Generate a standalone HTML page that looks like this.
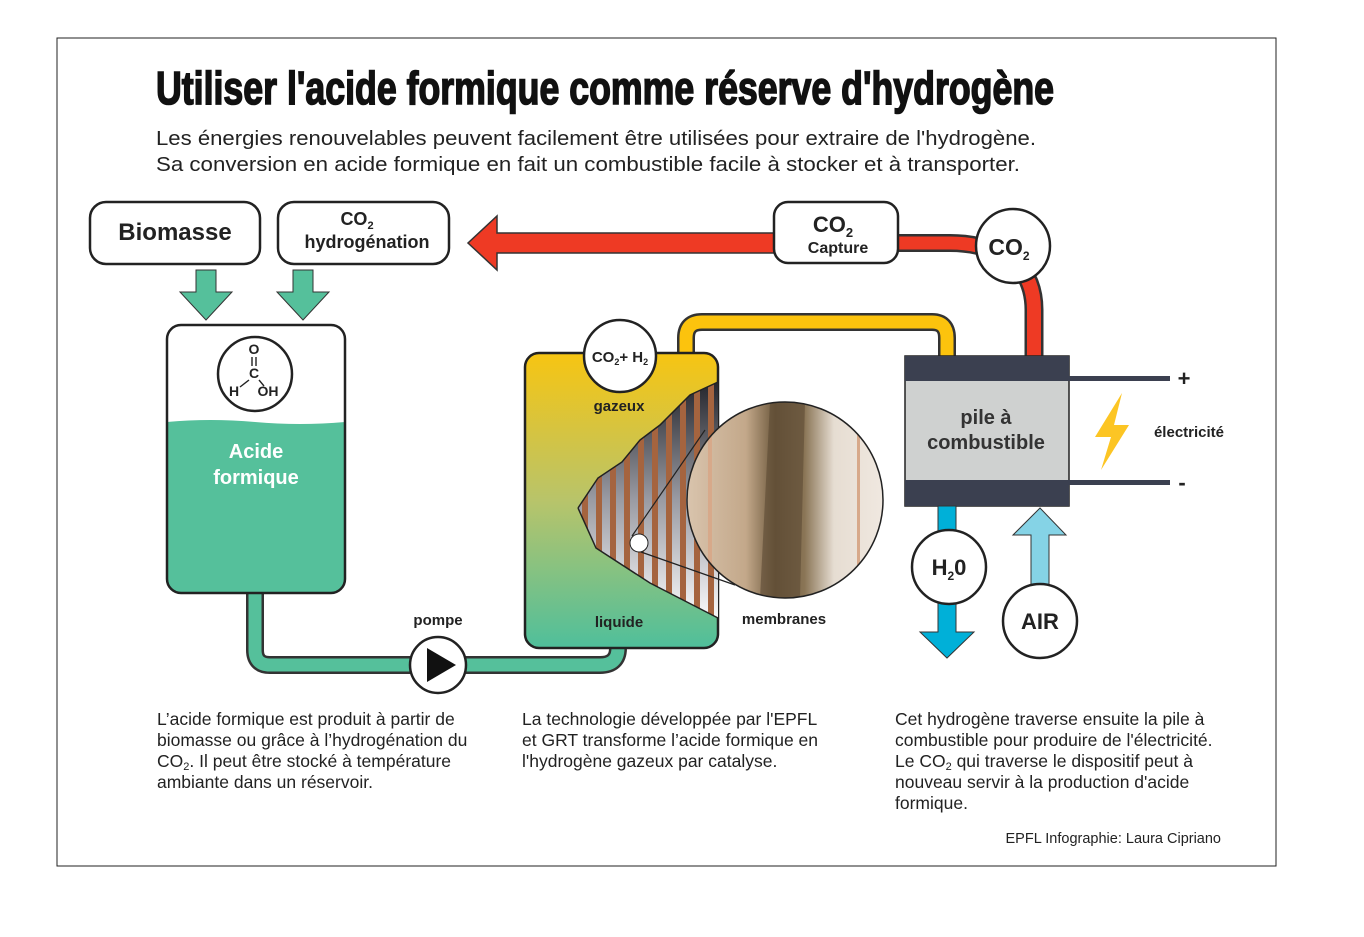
<!DOCTYPE html>
<html><head><meta charset="utf-8"><style>
html,body{margin:0;padding:0;background:#fff;}
svg{display:block;font-family:"Liberation Sans",sans-serif;}
</style></head><body>
<svg width="1364" height="937" viewBox="0 0 1364 937" xmlns="http://www.w3.org/2000/svg">
<defs>
<linearGradient id="tk2" x1="0" y1="0" x2="0" y2="1">
<stop offset="0" stop-color="#f7c512"/><stop offset="0.5" stop-color="#b8c46a"/><stop offset="1" stop-color="#4fbf9b"/></linearGradient>
<linearGradient id="mem" x1="0" y1="0" x2="0" y2="1">
<stop offset="0" stop-color="#1e1f25"/><stop offset="0.5" stop-color="#9a9ba3"/><stop offset="1" stop-color="#ffffff"/></linearGradient>
<linearGradient id="band" x1="0" y1="0" x2="1" y2="0">
<stop offset="0" stop-color="#d9c4ad"/><stop offset="0.3" stop-color="#c3a88a"/><stop offset="0.45" stop-color="#6e5a3e"/><stop offset="0.6" stop-color="#8a7556"/><stop offset="0.75" stop-color="#e6ddd2"/><stop offset="1" stop-color="#f0e8e0"/></linearGradient>
<clipPath id="magc"><circle cx="785" cy="500" r="98"/></clipPath>
<clipPath id="memc"><path d="M578,508 L598,478 L622,462 L640,440 L660,425 L690,395 L718,382 L718,618 L650,583 L596,548 Z"/></clipPath>
</defs>
<rect x="57" y="38" width="1219" height="828" fill="none" stroke="#222" stroke-width="1"/>

<text x="156" y="104" font-size="46" font-weight="bold" fill="#111" stroke="#111" stroke-width="1.6" textLength="898" lengthAdjust="spacingAndGlyphs">Utiliser l'acide formique comme réserve d'hydrogène</text>
<text x="156" y="145" font-size="20" fill="#222" textLength="880" lengthAdjust="spacingAndGlyphs">Les énergies renouvelables peuvent facilement être utilisées pour extraire de l'hydrogène.</text>
<text x="156" y="171" font-size="20" fill="#222" textLength="864" lengthAdjust="spacingAndGlyphs">Sa conversion en acide formique en fait un combustible facile à stocker et à transporter.</text>

<rect x="90" y="202" width="170" height="62" rx="16" fill="#fff" stroke="#222" stroke-width="2.5"/>
<text x="175" y="240" font-size="24" font-weight="bold" text-anchor="middle" fill="#222">Biomasse</text>
<rect x="278" y="202" width="171" height="62" rx="16" fill="#fff" stroke="#222" stroke-width="2.5"/>
<text x="357" y="225" font-size="18" font-weight="bold" text-anchor="middle" fill="#222">CO<tspan font-size="11" dy="4">2</tspan></text>
<text x="367" y="248" font-size="18" font-weight="bold" text-anchor="middle" fill="#222">hydrogénation</text>

<path d="M196,270 H216 V292 H232 L206,320 L180,292 H196 Z" fill="#55c09b" stroke="#333" stroke-width="1"/>
<path d="M293,270 H313 V292 H329 L303,320 L277,292 H293 Z" fill="#55c09b" stroke="#333" stroke-width="1"/>

<path d="M255,590 V650 Q255,665 270,665 H600 Q618,665 618,648" fill="none" stroke="#333" stroke-width="18"/>
<path d="M255,590 V650 Q255,665 270,665 H600 Q618,665 618,648" fill="none" stroke="#55c09b" stroke-width="13"/>

<path d="M167,422 Q210,418 255,422 Q300,426 345,422 V579 Q345,593 331,593 H181 Q167,593 167,579 Z" fill="#55c09b"/>
<rect x="167" y="325" width="178" height="268" rx="14" fill="none" stroke="#222" stroke-width="2.5"/>
<circle cx="255" cy="374" r="37" fill="#fff" stroke="#222" stroke-width="2.5"/>
<text x="254" y="354" font-size="14" font-weight="bold" text-anchor="middle" fill="#222">O</text>
<line x1="252" y1="357" x2="252" y2="366" stroke="#222" stroke-width="1.4"/><line x1="256" y1="357" x2="256" y2="366" stroke="#222" stroke-width="1.4"/>
<text x="254" y="378" font-size="14" font-weight="bold" text-anchor="middle" fill="#222">C</text>
<line x1="249" y1="380" x2="240" y2="387" stroke="#222" stroke-width="1.4"/><line x1="259" y1="380" x2="264" y2="386" stroke="#222" stroke-width="1.4"/>
<text x="234" y="396" font-size="14" font-weight="bold" text-anchor="middle" fill="#222">H</text>
<text x="268" y="396" font-size="14" font-weight="bold" text-anchor="middle" fill="#222">OH</text>
<text x="256" y="458" font-size="20" font-weight="bold" text-anchor="middle" fill="#fff">Acide</text>
<text x="256" y="484" font-size="20" font-weight="bold" text-anchor="middle" fill="#fff">formique</text>

<circle cx="438" cy="665" r="28" fill="#fff" stroke="#222" stroke-width="2.5"/>
<path d="M427,648 L456,665 L427,682 Z" fill="#111"/>
<text x="438" y="625" font-size="15" font-weight="bold" text-anchor="middle" fill="#222">pompe</text>

<path d="M686,360 V338 Q686,322 702,322 H932 Q947,322 947,338 V358" fill="none" stroke="#333" stroke-width="18"/>
<path d="M686,362 V338 Q686,322 702,322 H932 Q947,322 947,338 V358" fill="none" stroke="#fcc30d" stroke-width="13"/>

<rect x="525" y="353" width="193" height="295" rx="14" fill="url(#tk2)" stroke="#222" stroke-width="2.5"/>
<g clip-path="url(#memc)">
<rect x="570" y="375" width="150" height="250" fill="url(#mem)"/>
<g fill="#a5643f">
<rect x="582" y="370" width="6" height="260"/><rect x="596" y="370" width="6" height="260"/><rect x="610" y="370" width="6" height="260"/><rect x="624" y="370" width="6" height="260"/><rect x="638" y="370" width="6" height="260"/><rect x="652" y="370" width="6" height="260"/><rect x="666" y="370" width="6" height="260"/><rect x="680" y="370" width="6" height="260"/><rect x="694" y="370" width="6" height="260"/><rect x="708" y="370" width="6" height="260"/>
</g></g>
<path d="M578,508 L598,478 L622,462 L640,440 L660,425 L690,395 L718,382 M718,618 L650,583 L596,548 L578,508" fill="none" stroke="#222" stroke-width="1.5"/>
<circle cx="639" cy="543" r="9" fill="#fff" stroke="#222" stroke-width="1"/>
<line x1="632" y1="536" x2="705" y2="430" stroke="#222" stroke-width="1.2"/>
<line x1="641" y1="552" x2="735" y2="585" stroke="#222" stroke-width="1.2"/>
<g clip-path="url(#magc)">
<rect x="687" y="402" width="196" height="196" fill="url(#band)"/>
<path d="M770,402 L805,402 L800,598 L760,598 Z" fill="#5c4a34" opacity="0.6"/>
<rect x="708" y="402" width="4" height="196" fill="#d7a98a"/><rect x="857" y="402" width="3" height="196" fill="#d7a98a"/>
</g>
<circle cx="785" cy="500" r="98" fill="none" stroke="#222" stroke-width="1.5"/>
<circle cx="620" cy="356" r="36" fill="#fff" stroke="#222" stroke-width="2.5"/>
<text x="620" y="362" font-size="15" font-weight="bold" text-anchor="middle" fill="#222">CO<tspan font-size="9" dy="3">2</tspan><tspan dy="-3">+ H</tspan><tspan font-size="9" dy="3">2</tspan></text>
<text x="619" y="411" font-size="15" font-weight="bold" text-anchor="middle" fill="#222">gazeux</text>
<text x="619" y="627" font-size="15" font-weight="bold" text-anchor="middle" fill="#222">liquide</text>
<text x="784" y="624" font-size="15" font-weight="bold" text-anchor="middle" fill="#222">membranes</text>

<path d="M1034,358 V310 Q1034,280 1015,262" fill="none" stroke="#333" stroke-width="19"/>
<path d="M1034,358 V310 Q1034,280 1015,262" fill="none" stroke="#ee3a24" stroke-width="14"/>
<path d="M890,243 H950 Q965,243 978,246" fill="none" stroke="#333" stroke-width="18"/>
<path d="M890,243 H950 Q965,243 978,246" fill="none" stroke="#ee3a24" stroke-width="13"/>
<path d="M780,233 H497 V216 L468,243 L497,270 V253 H780 Z" fill="#ee3a24" stroke="#333" stroke-width="1.5"/>
<rect x="774" y="202" width="124" height="61" rx="14" fill="#fff" stroke="#222" stroke-width="2.5"/>
<text x="833" y="232" font-size="22" font-weight="bold" text-anchor="middle" fill="#222">CO<tspan font-size="13" dy="5">2</tspan></text>
<text x="838" y="253" font-size="16" font-weight="bold" text-anchor="middle" fill="#222">Capture</text>
<circle cx="1013" cy="246" r="37" fill="#fff" stroke="#222" stroke-width="2.5"/>
<text x="1009" y="255" font-size="23" font-weight="bold" text-anchor="middle" fill="#222">CO<tspan font-size="12" dy="5">2</tspan></text>

<rect x="905" y="356" width="164" height="150" fill="#cfd1d0" stroke="#222" stroke-width="1.5"/>
<rect x="905" y="356" width="164" height="25" fill="#3b4050"/>
<rect x="905" y="480" width="164" height="26" fill="#3b4050"/>
<text x="986" y="424" font-size="20" font-weight="bold" text-anchor="middle" fill="#333">pile à</text>
<text x="986" y="449" font-size="20" font-weight="bold" text-anchor="middle" fill="#333">combustible</text>
<rect x="1069" y="376" width="101" height="5" fill="#3b4050"/>
<rect x="1069" y="480" width="101" height="5" fill="#3b4050"/>
<text x="1184" y="386" font-size="22" font-weight="bold" text-anchor="middle" fill="#222">+</text>
<text x="1182" y="490" font-size="22" font-weight="bold" text-anchor="middle" fill="#222">-</text>
<path d="M1122,393 L1095,437 L1111,437 L1101,470 L1129,425 L1114,425 Z" fill="#fcc524"/>
<text x="1189" y="437" font-size="15" font-weight="bold" text-anchor="middle" fill="#222">électricité</text>

<rect x="938" y="506" width="18" height="28" fill="#00b0d8" stroke="#333" stroke-width="1"/>
<path d="M938,600 H956 V632 H974 L947,658 L920,632 H938 Z" fill="#00b0d8" stroke="#333" stroke-width="1"/>
<circle cx="949" cy="567" r="37" fill="#fff" stroke="#222" stroke-width="2.5"/>
<text x="949" y="575" font-size="22" font-weight="bold" text-anchor="middle" fill="#222">H<tspan font-size="12" dy="5">2</tspan><tspan dy="-5">0</tspan></text>

<path d="M1031,590 V535 H1013 L1040,508 L1066,535 H1049 V590 Z" fill="#85d3e6" stroke="#333" stroke-width="1"/>
<circle cx="1040" cy="621" r="37" fill="#fff" stroke="#222" stroke-width="2.5"/>
<text x="1040" y="629" font-size="22" font-weight="bold" text-anchor="middle" fill="#222">AIR</text>

<g font-size="17.5" fill="#222">
<text x="157" y="725">L’acide formique est produit à partir de</text>
<text x="157" y="746">biomasse ou grâce à l’hydrogénation du</text>
<text x="157" y="767">CO<tspan font-size="11" dy="3">2</tspan><tspan dy="-3">. Il peut être stocké à température</tspan></text>
<text x="157" y="788">ambiante dans un réservoir.</text>
<text x="522" y="725">La technologie développée par l'EPFL</text>
<text x="522" y="746">et GRT transforme l’acide formique en</text>
<text x="522" y="767">l'hydrogène gazeux par catalyse.</text>
<text x="895" y="725">Cet hydrogène traverse ensuite la pile à</text>
<text x="895" y="746">combustible pour produire de l'électricité.</text>
<text x="895" y="767">Le CO<tspan font-size="11" dy="3">2</tspan><tspan dy="-3"> qui traverse le dispositif peut à</tspan></text>
<text x="895" y="788">nouveau servir à la production d'acide</text>
<text x="895" y="809">formique.</text>
</g>
<text x="1221" y="843" font-size="14.5" text-anchor="end" fill="#222">EPFL Infographie: Laura Cipriano</text>
</svg>
</body></html>
